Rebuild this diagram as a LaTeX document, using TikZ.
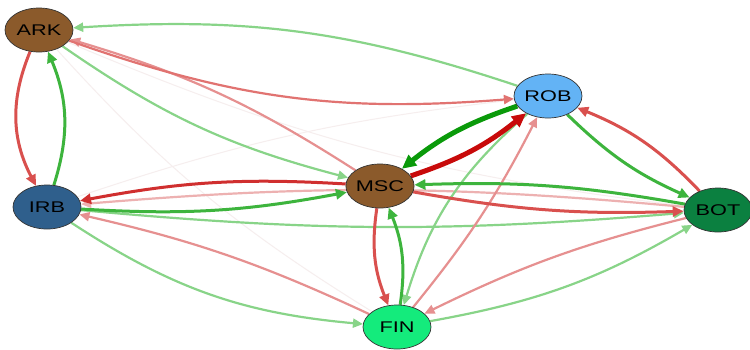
\documentclass[tikz,border=0pt]{standalone}
\usepackage{fontspec}
\usepackage{graphicx}
\setmainfont{Liberation Sans}
\usetikzlibrary{shapes.geometric,arrows.meta}
\pgfdeclarelayer{paper}
\pgfdeclarelayer{edges}
\pgfsetlayers{paper,edges,main}
\definecolor{brownN}{HTML}{8B5A2B}
\definecolor{robC}{HTML}{63B3F5}
\definecolor{irbC}{HTML}{2F5F8C}
\definecolor{finC}{HTML}{14EB7C}
\definecolor{botC}{HTML}{0B8040}
\definecolor{rStrong}{HTML}{C80A0A}
\definecolor{rMed}{HTML}{D9504E}
\definecolor{rLight}{HTML}{E69090}
\definecolor{gStrong}{HTML}{0A9A0A}
\definecolor{gMed}{HTML}{3DB43D}
\definecolor{gLight}{HTML}{88D488}
\definecolor{faint}{HTML}{F6EEEE}
\newcommand\vlbl[1]{\scalebox{1.4}[1]{#1}}
\tikzset{
  vtx/.style={ellipse,draw=black!80,line width=0.7pt,minimum width=68pt,minimum height=44pt,inner sep=0pt,font=\fontsize{15.5}{15.5}\selectfont},
  thickE/.style={line width=5pt,-{Triangle[length=14pt,width=13pt]}},
  medE/.style={line width=3pt,-{Triangle[length=11pt,width=10pt]}},
  lightE/.style={line width=2.2pt,-{Triangle[length=10pt,width=9pt]}},
  faintE/.style={line width=1pt,faint},
}
\begin{document}
\begin{tikzpicture}[x=1pt,y=1pt]
\begin{pgfonlayer}{paper}
\fill[white] (0,0) rectangle (750,-349);
\end{pgfonlayer}
\useasboundingbox (0,0) rectangle (750,-349);
\node[vtx,fill=brownN] (ARK) at (39,-30) {\vlbl{ARK}};
\node[vtx,fill=robC] (ROB) at (548,-96) {\vlbl{ROB}};
\node[vtx,fill=irbC] (IRB) at (47,-207) {\vlbl{IRB}};
\node[vtx,fill=brownN] (MSC) at (380,-186) {\vlbl{MSC}};
\node[vtx,fill=finC] (FIN) at (397,-327) {\vlbl{FIN}};
\node[vtx,fill=botC] (BOT) at (718,-210) {\vlbl{BOT}};
\begin{pgfonlayer}{edges}
% faint edges
\draw[faintE] (ARK) to[bend right=8] (BOT);
\draw[faintE] (ARK) to[bend right=8] (FIN);
\draw[faintE] (IRB) to[bend left=6] (ROB);
% light edges
\draw[lightE,gLight] (ROB) to[bend right=11] (ARK);
\draw[lightE,rLight] (MSC) to[bend right=8] (ARK);
\draw[lightE,rMed!80] (ARK) to[bend right=12] (ROB);
\draw[lightE,gLight] (ARK) to[bend right=10] (MSC);
\draw[lightE,gLight] (IRB) to[bend right=14] (FIN);
\draw[lightE,gLight] (IRB) to[bend right=5] (BOT);
\draw[lightE,rLight] (FIN) to[bend right=6] (IRB);
\draw[lightE,rLight!70] (BOT) to[bend right=5] (IRB);
\draw[lightE,rLight] (FIN) to[bend right=6] (ROB);
\draw[lightE,gLight] (ROB) to[bend right=16] (FIN);
\draw[lightE,rLight] (BOT) to[bend right=6] (FIN);
\draw[lightE,gLight] (FIN) to[bend right=10] (BOT);
% medium edges
\draw[medE,rMed] (ARK) to[bend right=25] (IRB);
\draw[medE,gMed] (IRB) to[bend right=20] (ARK);
\draw[medE,rStrong!85] (MSC) to[bend right=7] (IRB);
\draw[medE,gMed] (IRB) to[bend right=7] (MSC);
\draw[medE,rMed] (MSC) to[bend right=6] (BOT);
\draw[medE,gMed] (BOT) to[bend right=6] (MSC);
\draw[medE,gMed] (ROB) to[bend right=10] (BOT);
\draw[medE,rMed] (BOT) to[bend right=12] (ROB);
\draw[medE,rMed] (MSC) to[bend right=15] (FIN);
\draw[medE,gMed] (FIN) to[bend right=15] (MSC);
% thick edges
\draw[thickE,gStrong] (ROB) to[bend right=10] (MSC);
\draw[thickE,rStrong] (MSC) to[bend right=10] (ROB);
\end{pgfonlayer}
\end{tikzpicture}
\end{document}
